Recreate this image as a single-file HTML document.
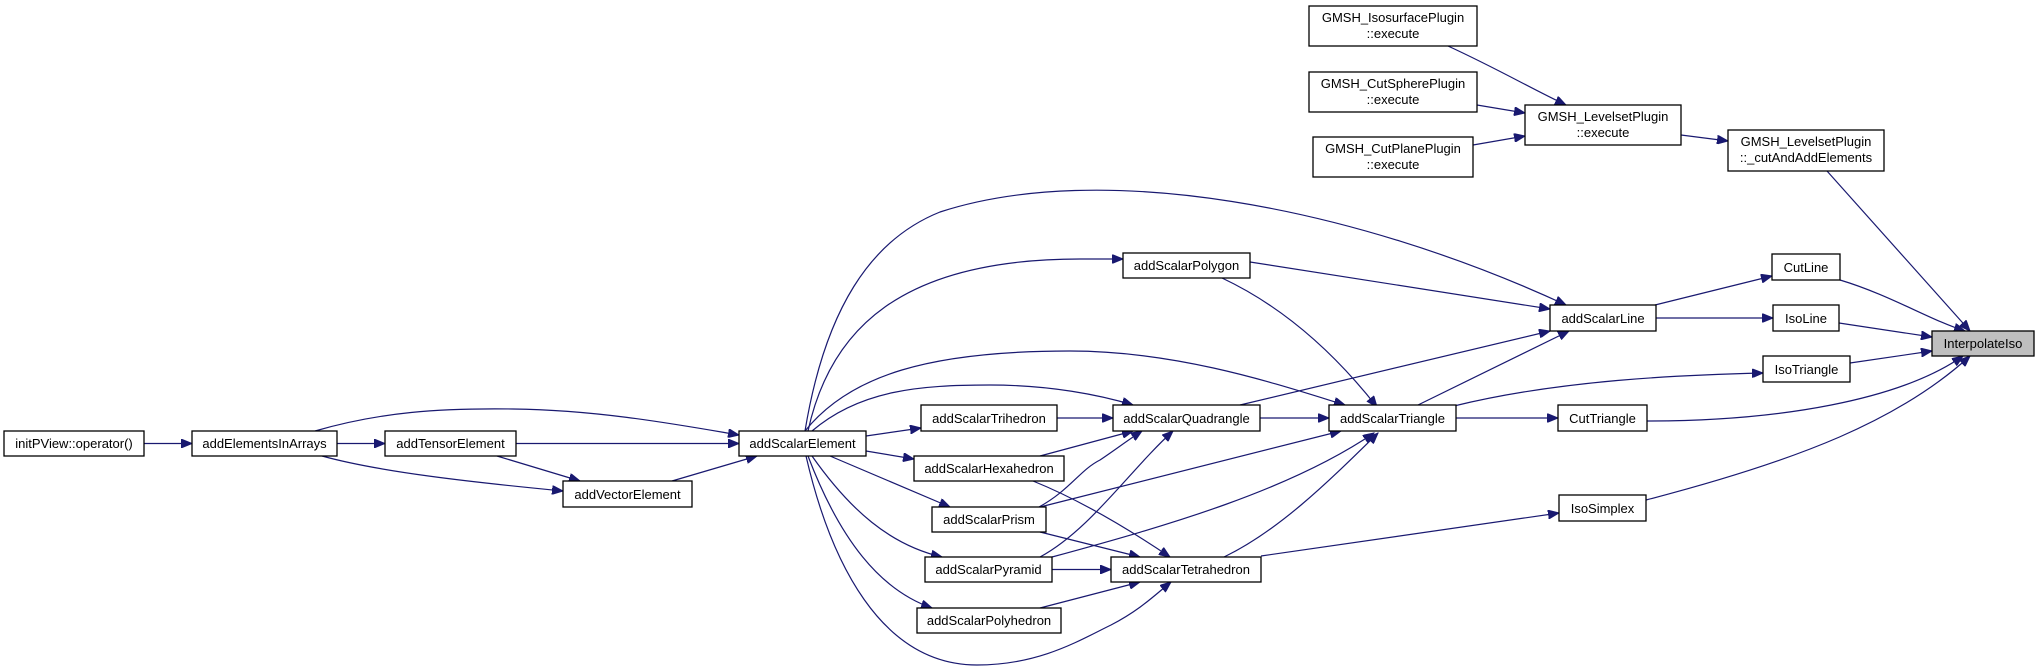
<!DOCTYPE html>
<html><head><meta charset="utf-8"><style>
html,body{margin:0;padding:0;background:#fff}
svg{display:block}
text{font-family:"Liberation Sans",sans-serif;font-size:13px;fill:#000}
.b{fill:#fff;stroke:#000;stroke-width:1.3}
.e{fill:none;stroke:#191970;stroke-width:1.2}
</style></head><body>
<svg width="2036" height="672" viewBox="0 0 2036 672" xmlns="http://www.w3.org/2000/svg">
<defs><marker id="a" markerWidth="12" markerHeight="9" refX="11" refY="4.5" orient="auto" markerUnits="userSpaceOnUse"><path d="M0,0 L11,4.5 L0,9 z" fill="#191970" stroke="#191970"/></marker></defs>
<g class="e" marker-end="url(#a)">
<path d="M144,443.5 L192,443.5"/>
<path d="M337,443.5 L385,443.5"/>
<path d="M322,456 C380,472 470,482 563,491"/>
<path d="M497,456 L580,481"/>
<path d="M315,431 C380,412 440,408 513,409 C600,410 680,425 739,435"/>
<path d="M516,443.5 L739,443.5"/>
<path d="M672,481 L757,456"/>
<path d="M866,436 L921,428"/>
<path d="M866,451 L914,459"/>
<path d="M830,456 L950,507"/>
<path d="M812,456 C850,510 890,545 942,557"/>
<path d="M808,456 C840,540 880,590 932,608"/>
<path d="M806,456 C830,560 880,665 977,665 C1040,665 1080,640 1111,625 C1140,610 1155,595 1171,582"/>
<path d="M808,431 C830,330 900,259 1080,259 L1123,259"/>
<path d="M805,431 C825,310 870,240 940,212 C1100,160 1350,205 1566,305"/>
<path d="M812,431 C860,390 920,385 990,385 C1050,385 1100,395 1133,405"/>
<path d="M805,431 C850,375 930,351 1070,351 C1180,351 1280,385 1345,405"/>
<path d="M1057,418 L1113,418"/>
<path d="M1040,456 L1133,431"/>
<path d="M1033,481 C1080,500 1130,530 1170,557"/>
<path d="M1039,507 C1070,490 1080,470 1100,460 C1115,450 1128,440 1142,431"/>
<path d="M1040,507 L1341,431"/>
<path d="M1040,532 L1140,557"/>
<path d="M1040,557 C1090,530 1130,470 1173,431"/>
<path d="M1052,557 C1170,525 1290,490 1374,433"/>
<path d="M1052,569.5 L1111,569.5"/>
<path d="M1040,608 L1140,582"/>
<path d="M1250,262 L1550,309"/>
<path d="M1222,278 C1290,310 1340,360 1377,407"/>
<path d="M1260,418 L1329,418"/>
<path d="M1240,405 L1550,331"/>
<path d="M1224,557 C1280,530 1330,480 1378,433"/>
<path d="M1261,556 L1559,513"/>
<path d="M1418,405 L1569,331"/>
<path d="M1454,406 C1560,380 1680,375 1763,373"/>
<path d="M1456,418 L1558,418"/>
<path d="M1655,305 L1772,276"/>
<path d="M1656,318 L1773,318"/>
<path d="M1840,280 C1890,295 1930,320 1965,331"/>
<path d="M1839,323 L1932,337"/>
<path d="M1850,363 L1932,351"/>
<path d="M1647,421 C1780,421 1900,400 1963,356"/>
<path d="M1646,500 C1800,460 1900,420 1970,356"/>
<path d="M1827,171 L1970,331"/>
<path d="M1681,135 L1728,141"/>
<path d="M1448,46 C1500,70 1530,88 1566,105"/>
<path d="M1477,105 L1525,113"/>
<path d="M1473,145 L1525,136"/>
</g>
<g>
<rect class="b" x="4" y="431" width="140" height="25"/><text x="74" y="448" text-anchor="middle">initPView::operator()</text>
<rect class="b" x="192" y="431" width="145" height="25"/><text x="264.5" y="448" text-anchor="middle">addElementsInArrays</text>
<rect class="b" x="385" y="431" width="131" height="25"/><text x="450.5" y="448" text-anchor="middle">addTensorElement</text>
<rect class="b" x="563" y="481" width="129" height="26"/><text x="627.5" y="499" text-anchor="middle">addVectorElement</text>
<rect class="b" x="739" y="431" width="127" height="25"/><text x="802.5" y="448" text-anchor="middle">addScalarElement</text>
<rect class="b" x="921" y="405" width="136" height="26"/><text x="989" y="423" text-anchor="middle">addScalarTrihedron</text>
<rect class="b" x="914" y="456" width="150" height="25"/><text x="989" y="473" text-anchor="middle">addScalarHexahedron</text>
<rect class="b" x="932" y="507" width="114" height="25"/><text x="989" y="524" text-anchor="middle">addScalarPrism</text>
<rect class="b" x="925" y="557" width="127" height="25"/><text x="988.5" y="574" text-anchor="middle">addScalarPyramid</text>
<rect class="b" x="917" y="608" width="144" height="25"/><text x="989" y="625" text-anchor="middle">addScalarPolyhedron</text>
<rect class="b" x="1123" y="253" width="127" height="25"/><text x="1186.5" y="270" text-anchor="middle">addScalarPolygon</text>
<rect class="b" x="1113" y="405" width="147" height="26"/><text x="1186.5" y="423" text-anchor="middle">addScalarQuadrangle</text>
<rect class="b" x="1111" y="557" width="150" height="25"/><text x="1186" y="574" text-anchor="middle">addScalarTetrahedron</text>
<rect class="b" x="1329" y="405" width="127" height="26"/><text x="1392.5" y="423" text-anchor="middle">addScalarTriangle</text>
<rect class="b" x="1550" y="305" width="106" height="26"/><text x="1603" y="323" text-anchor="middle">addScalarLine</text>
<rect class="b" x="1558" y="405" width="89" height="26"/><text x="1602.5" y="423" text-anchor="middle">CutTriangle</text>
<rect class="b" x="1559" y="495" width="87" height="26"/><text x="1602.5" y="513" text-anchor="middle">IsoSimplex</text>
<rect class="b" x="1772" y="254" width="68" height="26"/><text x="1806" y="272" text-anchor="middle">CutLine</text>
<rect class="b" x="1773" y="305" width="66" height="26"/><text x="1806" y="323" text-anchor="middle">IsoLine</text>
<rect class="b" x="1763" y="356" width="87" height="26"/><text x="1806.5" y="374" text-anchor="middle">IsoTriangle</text>
<rect x="1932" y="331" width="102" height="25" fill="#bfbfbf" stroke="#000" stroke-width="1.3"/><text x="1983" y="348" text-anchor="middle">InterpolateIso</text>
<rect class="b" x="1309" y="6" width="168" height="40"/><text x="1393" y="22" text-anchor="middle">GMSH_IsosurfacePlugin</text><text x="1393" y="38" text-anchor="middle">::execute</text>
<rect class="b" x="1309" y="72" width="168" height="40"/><text x="1393" y="88" text-anchor="middle">GMSH_CutSpherePlugin</text><text x="1393" y="104" text-anchor="middle">::execute</text>
<rect class="b" x="1313" y="137" width="160" height="40"/><text x="1393" y="153" text-anchor="middle">GMSH_CutPlanePlugin</text><text x="1393" y="169" text-anchor="middle">::execute</text>
<rect class="b" x="1525" y="105" width="156" height="40"/><text x="1603" y="121" text-anchor="middle">GMSH_LevelsetPlugin</text><text x="1603" y="137" text-anchor="middle">::execute</text>
<rect class="b" x="1728" y="130" width="156" height="41"/><text x="1806" y="146" text-anchor="middle">GMSH_LevelsetPlugin</text><text x="1806" y="162" text-anchor="middle">::_cutAndAddElements</text>
</g>
</svg>
</body></html>
